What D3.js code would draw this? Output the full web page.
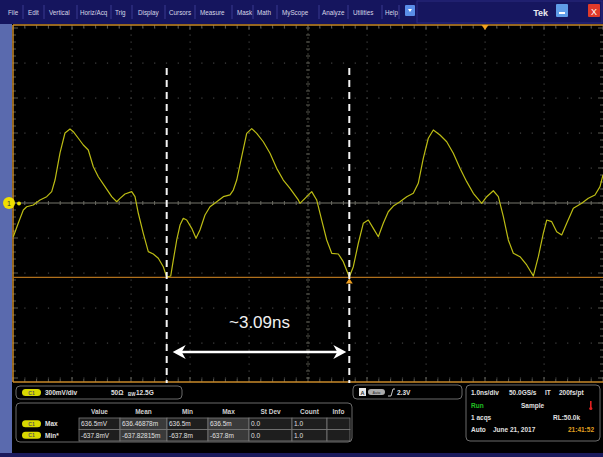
<!DOCTYPE html>
<html><head><meta charset="utf-8">
<script src="https://cdn.jsdelivr.net/npm/d3@7"></script>
<style>html,body{margin:0;padding:0;background:#000;}svg{display:block;font-family:Arial,"Liberation Sans",sans-serif;}</style>
</head><body>
<svg id="c" width="603" height="457"></svg>
<script>
// ---- data ----
const timeNs = [-4.995,-4.91,-4.825,-4.768,-4.656,-4.542,-4.429,-4.344,-4.288,-4.203,-4.119,-4.034,-3.978,-3.893,-3.808,-3.724,-3.639,-3.554,-3.441,-3.327,-3.242,-3.186,-3.102,-2.988,-2.932,-2.876,-2.792,-2.707,-2.622,-2.537,-2.453,-2.395,-2.327,-2.283,-2.225,-2.169,-2.114,-2.056,-1.971,-1.898,-1.831,-1.746,-1.661,-1.547,-1.435,-1.322,-1.266,-1.208,-1.124,-1.039,-0.954,-0.869,-0.758,-0.644,-0.531,-0.419,-0.305,-0.164,-0.136,-0.051,0.063,0.147,0.232,0.317,0.402,0.514,0.598,0.7,0.768,0.853,0.937,1.022,1.107,1.192,1.276,1.361,1.446,1.559,1.673,1.785,1.869,1.954,2.039,2.124,2.237,2.351,2.463,2.576,2.69,2.802,2.944,3.029,3.141,3.226,3.311,3.395,3.48,3.593,3.707,3.819,3.904,3.988,4.046,4.131,4.215,4.3,4.385,4.497,4.639,4.751,4.864,4.949,5.0];
const voltageMv = [-289,-171,-60,-32,-17,26,54,97,197,429,600,634,611,555,497,454,311,225,140,54,11,40,77,97,54,-88,-260,-417,-437,-474,-546,-634,-626,-489,-317,-189,-131,-146,-217,-303,-231,-103,-32,11,54,69,111,197,397,597,638,597,525,426,297,197,126,26,-3,40,97,26,-146,-317,-431,-437,-503,-634,-546,-345,-174,-146,-217,-289,-174,-75,-26,11,54,83,169,383,555,626,583,525,426,297,183,83,-3,54,105,54,-117,-317,-431,-460,-531,-626,-460,-260,-146,-160,-246,-274,-174,-45,-3,40,69,140,240];
const cursorTimesNs = [-2.395, 0.7];
const deltaLabel = "~3.09ns";
const minLevelMv = -637.8;
const trigTimeNs = 3.0;
const menuItems = ["File","Edit","Vertical","Horiz/Acq","Trig","Display","Cursors","Measure","Mask","Math","MyScope","Analyze","Utilities","Help"];
const measHeaders = ["Value","Mean","Min","Max","St Dev","Count","Info"];
const measRows = [
  {name:"Max", cells:["636.5mV","636.46878m","636.5m","636.5m","0.0","1.0",""]},
  {name:"Min*", cells:["-637.8mV","-637.82815m","-637.8m","-637.8m","0.0","1.0",""]}
];

const svg = d3.select("#c");
const W = 603, H = 457;
const x = d3.scaleLinear().domain([-5,5]).range([13,603]);
const y = d3.scaleLinear().domain([-1500,1500]).range([378,28]);

// backgrounds
svg.append("rect").attr("x",0).attr("y",0).attr("width",W).attr("height",H).attr("fill","#000");
svg.append("rect").attr("x",0).attr("y",24).attr("width",12).attr("height",430).attr("fill","#5a6aae");
svg.append("rect").attr("x",0).attr("y",453).attr("width",W).attr("height",4).attr("fill","#1a1a5c");

// menu bar
svg.append("rect").attr("x",0).attr("y",0).attr("width",W).attr("height",24).attr("fill","#15155e");
svg.append("rect").attr("x",417).attr("y",1).attr("width",185).attr("height",22).attr("fill","#16165f").attr("stroke","#2a2a80");
const menuX = [8,28,49,80,115,138,169,200,237,257,282,322,353,385];
const seps = [23,44,77,111,132,165,195,232,253,277,319,348,382,399];
svg.selectAll(".mi").data(menuItems).join("text").attr("class","mi")
  .attr("x",(d,i)=>menuX[i]).attr("y",15).attr("fill","#d8d8e8").attr("font-size",6.3).text(d=>d);
svg.selectAll(".ms").data(seps).join("line").attr("class","ms")
  .attr("x1",d=>d).attr("x2",d=>d).attr("y1",5).attr("y2",19).attr("stroke","#3a3a90").attr("stroke-width",1);
svg.append("rect").attr("x",405).attr("y",5).attr("width",10).attr("height",11).attr("rx",1).attr("fill","#5a8ee8");
svg.append("path").attr("d","M408,9 L412,9 L410,12 Z").attr("fill","#fff");
svg.append("text").attr("x",548).attr("y",16).attr("fill","#e8e8f0").attr("font-size",9).attr("font-weight","bold").attr("text-anchor","end").text("Tek");
svg.append("rect").attr("x",556).attr("y",4).attr("width",12).attr("height",13).attr("rx",1).attr("fill","#5f9de8");
svg.append("rect").attr("x",559).attr("y",12).attr("width",6).attr("height",2).attr("fill","#fff");
svg.append("rect").attr("x",588).attr("y",4).attr("width",12).attr("height",13).attr("rx",1).attr("fill","#e03a2a");
svg.append("text").attr("x",594).attr("y",14.5).attr("fill","#fff").attr("font-size",9).attr("text-anchor","middle").text("X");

// plot area
const px0 = 13, px1 = 603, py0 = 25, py1 = 382;
svg.append("rect").attr("x",px0).attr("y",py0).attr("width",px1-px0).attr("height",py1-py0).attr("fill","#000");
const g = svg.append("g");
const xMajor = d3.range(-5,5.01,1), yMajor = d3.range(-1500,1501,300);
const xMinor = d3.range(-5,5.001,0.2), yMinor = d3.range(-1500,1501,60);
// dotted grid
xMajor.forEach(t=>{ if(Math.abs(t)<1e-9) return;
  yMinor.forEach(v=>g.append("rect").attr("x",x(t)-0.5).attr("y",y(v)-0.5).attr("width",1.2).attr("height",1.2).attr("fill","#444"));
});
yMajor.forEach(v=>{ if(v===0) return;
  xMinor.forEach(t=>g.append("rect").attr("x",x(t)-0.5).attr("y",y(v)-0.5).attr("width",1.2).attr("height",1.2).attr("fill","#444"));
});
// center crosshair
g.append("line").attr("x1",px0).attr("x2",px1).attr("y1",y(0)).attr("y2",y(0)).attr("stroke","#76766c").attr("stroke-width",1.2);
xMinor.forEach(t=>g.append("line").attr("x1",x(t)).attr("x2",x(t)).attr("y1",y(0)-2).attr("y2",y(0)+2).attr("stroke","#6a6a62"));
g.append("line").attr("x1",x(0)).attr("x2",x(0)).attr("y1",py0).attr("y2",py1).attr("stroke","#3c3c34").attr("stroke-dasharray","2,2");
yMinor.forEach(v=>g.append("line").attr("x1",x(0)-2).attr("x2",x(0)+2).attr("y1",y(v)).attr("y2",y(v)).attr("stroke","#5a5a52"));
// edge ticks
xMinor.forEach((t,i)=>{
  const len = (i%5===0)?5:3;
  g.append("line").attr("x1",x(t)).attr("x2",x(t)).attr("y1",py0).attr("y2",py0+len).attr("stroke","#5a5a52");
  g.append("line").attr("x1",x(t)).attr("x2",x(t)).attr("y1",py1-len).attr("y2",py1).attr("stroke","#5a5a52");
});
yMinor.forEach((v,i)=>{
  const len = (i%5===0)?5:3;
  g.append("line").attr("x1",px0).attr("x2",px0+len).attr("y1",y(v)).attr("y2",y(v)).attr("stroke","#5a5a52");
  g.append("line").attr("x1",px1-len).attr("x2",px1).attr("y1",y(v)).attr("y2",y(v)).attr("stroke","#5a5a52");
});
// borders
svg.append("line").attr("x1",px0).attr("x2",px1).attr("y1",py0).attr("y2",py0).attr("stroke","#c88a2a").attr("stroke-width",1.5);
svg.append("line").attr("x1",px0).attr("x2",px1).attr("y1",py1).attr("y2",py1).attr("stroke","#c88a2a").attr("stroke-width",1.5);
svg.append("line").attr("x1",px0).attr("x2",px0).attr("y1",py0).attr("y2",py1).attr("stroke","#c88a2a").attr("stroke-width",1.5);

// min level line
svg.append("line").attr("x1",px0).attr("x2",px1).attr("y1",y(minLevelMv)).attr("y2",y(minLevelMv)).attr("stroke","#b0701c").attr("stroke-width",1.2);

// waveform
const pts = timeNs.map((t,i)=>[t,voltageMv[i]]);
svg.append("path").datum(pts).attr("fill","none").attr("stroke","#bcbc14").attr("stroke-width",1.2)
  .attr("stroke-linejoin","round")
  .attr("d",d3.line().x(d=>x(d[0])).y(d=>y(d[1])));

// markers
svg.append("path").attr("d",`M${x(trigTimeNs)-3.5},${py0} L${x(trigTimeNs)+3.5},${py0} L${x(trigTimeNs)},${py0+5} Z`).attr("fill","#f0a020");
const cx2 = x(cursorTimesNs[1]);
svg.append("path").attr("d",`M${cx2-3.5},${y(minLevelMv)+6} L${cx2+3.5},${y(minLevelMv)+6} L${cx2},${y(minLevelMv)+1} Z`).attr("fill","#f0a020");
svg.append("circle").attr("cx",9).attr("cy",y(0)).attr("r",6).attr("fill","#f0e000");
svg.append("text").attr("x",9).attr("y",y(0)+2.5).attr("text-anchor","middle").attr("font-size",7).attr("fill","#333").text("1");
svg.append("circle").attr("cx",19).attr("cy",y(0)+0.5).attr("r",2).attr("fill","#e8e000");

// cursors
cursorTimesNs.forEach(t=>{
  svg.append("line").attr("x1",x(t)).attr("x2",x(t)).attr("y1",68).attr("y2",383)
    .attr("stroke","#f4f4f4").attr("stroke-width",2).attr("stroke-dasharray","7,5");
});
// delta arrow
const ay = 352, ax0 = x(cursorTimesNs[0])+6, ax1 = x(cursorTimesNs[1])-3;
svg.append("line").attr("x1",ax0+6).attr("x2",ax1-6).attr("y1",ay).attr("y2",ay).attr("stroke","#fff").attr("stroke-width",2.5);
svg.append("path").attr("d",`M${ax0},${ay} L${ax0+13},${ay-7} L${ax0+9},${ay} L${ax0+13},${ay+7} Z`).attr("fill","#fff");
svg.append("path").attr("d",`M${ax1},${ay} L${ax1-13},${ay-7} L${ax1-9},${ay} L${ax1-13},${ay+7} Z`).attr("fill","#fff");
svg.append("text").attr("x",(ax0+ax1)/2).attr("y",328).attr("text-anchor","middle").attr("fill","#f0f0f0")
  .attr("font-size",17).attr("font-family","'Liberation Sans',Arial,sans-serif").text(deltaLabel);

// bottom panel
const bp = svg.append("g").attr("font-size",6.5).attr("fill","#e0e0e0").attr("font-weight","bold");
function box(x0,y0,w,h){ bp.append("rect").attr("x",x0).attr("y",y0).attr("width",w).attr("height",h).attr("rx",4).attr("fill","#000").attr("stroke","#6a6a6a").attr("stroke-width",1); }
function pill(x0,yc,label){ 
  bp.append("rect").attr("x",x0).attr("y",yc-3.5).attr("width",19).attr("height",7).attr("rx",3.5).attr("fill","#d8d800");
  bp.append("text").attr("x",x0+9.5).attr("y",yc+2).attr("text-anchor","middle").attr("font-size",5).attr("fill","#555").text(label);
}
box(16,386,166,13);
pill(22,392.5,"C1");
bp.append("text").attr("x",45).attr("y",395).text("300mV/div");
bp.append("text").attr("x",111).attr("y",395).text("50Ω");
bp.append("text").attr("x",128).attr("y",396).attr("font-size",4.5).text("BW");
bp.append("text").attr("x",136).attr("y",395).text("12.5G");

box(16,403,336,39);
const colX = [79,120,167,208,249,292,327,350];
const rowY = [418,429.5,441];
measHeaders.forEach((h,i)=>bp.append("text").attr("x",(colX[i]+colX[i+1])/2).attr("y",414).attr("text-anchor","middle").attr("fill","#cfcfcf").text(h));
measRows.forEach((r,ri)=>{
  pill(22,(rowY[ri]+rowY[ri+1])/2,"C1");
  bp.append("text").attr("x",45).attr("y",rowY[ri]+8).text(r.name);
  r.cells.forEach((c,ci)=>{
    bp.append("rect").attr("x",colX[ci]).attr("y",rowY[ri]).attr("width",colX[ci+1]-colX[ci]).attr("height",rowY[ri+1]-rowY[ri])
      .attr("fill",(ci===1||ci===3)?"#3a3a3a":"#1e1e1e").attr("stroke","#7a7a7a").attr("stroke-width",0.8);
    bp.append("text").attr("x",colX[ci]+2).attr("y",rowY[ri]+8).attr("font-weight","normal").text(c);
  });
});

box(353,385,109,14);
bp.append("rect").attr("x",359).attr("y",388).attr("width",7).attr("height",8).attr("fill","#e8e8e8");
bp.append("text").attr("x",362.5).attr("y",394.5).attr("text-anchor","middle").attr("font-size",5.5).attr("fill","#333").text("A");
bp.append("rect").attr("x",368).attr("y",389).attr("width",17).attr("height",6).attr("rx",3).attr("fill","#aaa");
bp.append("text").attr("x",376.5).attr("y",393.5).attr("text-anchor","middle").attr("font-size",3.5).attr("fill","#444").text("Auto");
bp.append("path").attr("d","M388,396 L391,396 L393,389 L395,389").attr("fill","none").attr("stroke","#ddd").attr("stroke-width",0.9);
bp.append("text").attr("x",397).attr("y",395).text("2.3V");

box(466,385,134,56);
bp.append("text").attr("x",471).attr("y",395).text("1.0ns/div");
bp.append("text").attr("x",509).attr("y",395).text("50.0GS/s");
bp.append("text").attr("x",545).attr("y",395).text("IT");
bp.append("text").attr("x",559).attr("y",395).text("200fs/pt");
bp.append("text").attr("x",471).attr("y",408).attr("fill","#20c020").text("Run");
bp.append("text").attr("x",521).attr("y",408).text("Sample");
bp.append("rect").attr("x",590).attr("y",401).attr("width",1.6).attr("height",7).attr("fill","#e02020");
bp.append("circle").attr("cx",590.8).attr("cy",408.5).attr("r",1.6).attr("fill","#e02020");
bp.append("text").attr("x",471).attr("y",420).text("1 acqs");
bp.append("text").attr("x",553).attr("y",420).text("RL:50.0k");
bp.append("text").attr("x",471).attr("y",432).text("Auto");
bp.append("text").attr("x",493).attr("y",432).text("June 21, 2017");
bp.append("text").attr("x",568).attr("y",432).attr("fill","#e0a020").text("21:41:52");
</script>
</body></html>
